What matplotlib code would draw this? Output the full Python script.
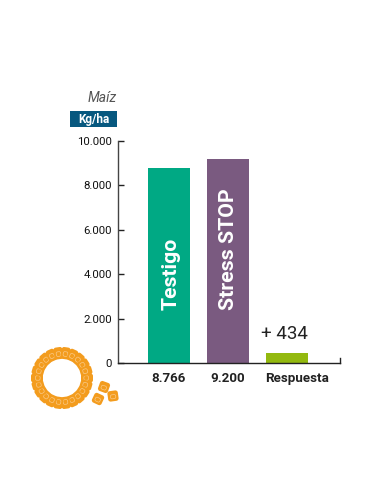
import numpy as np
import matplotlib
matplotlib.use("Agg")
import matplotlib.pyplot as plt
from matplotlib.patches import FancyBboxPatch, Rectangle
from matplotlib.transforms import Affine2D

plt.rcParams['font.family'] = ['Roboto', 'DejaVu Sans']

W, H = 381, 492
categories = ['Testigo', 'Stress STOP', 'Respuesta']
values = [8766, 9200, 434]
colors = ['#00a984', '#7a5a80', '#93b90f']
value_labels = ['8.766', '9.200', 'Respuesta']
yticks = [0, 2000, 4000, 6000, 8000, 10000]
ytick_labels = ['0', '2.000', '4.000', '6.000', '8.000', '10.000']

fig = plt.figure(figsize=(W / 100, H / 100), dpi=100)
# axes placed in pixels
ax = fig.add_axes([117.5 / W, (H - 363) / H, 222.5 / W, 222 / H])
ax.set_xlim(-0.873, 2.898)
ax.set_ylim(0, 10000)
ax.bar(range(3), values, width=0.72, color=colors, zorder=2)

for s in ['top', 'right']:
    ax.spines[s].set_visible(False)
ax.spines['left'].set_color('#444444')
ax.spines['left'].set_linewidth(1.0)
ax.spines['bottom'].set_color('#222222')
ax.spines['bottom'].set_linewidth(1.0)
ax.set_yticks(yticks)
ax.set_yticklabels(ytick_labels, fontsize=8.2, color='#111111')
ax.tick_params(axis='y', direction='in', length=4.5, width=1.0, pad=4, color='#222222')
ax.set_xticks([])
for i, lab in enumerate(value_labels):
    # Respuesta sits a bit right of its bar
    ax.text(i + (0.17 if i == 2 else 0.0), -410, lab, fontsize=9.6, fontweight='bold', color='#222222',
            ha='center', va='top')
# little end tick on the baseline
ax.plot([1, 1], [0, 0.022], transform=ax.transAxes, color='#222222', lw=1, clip_on=False)

ax.text(0.035, 2400, categories[0], rotation=90, color='white', fontsize=15.2, fontweight='bold',
        ha='center', va='bottom')
ax.text(1.01, 2400, categories[1], rotation=90, color='white', fontsize=15.4, fontweight='bold',
        ha='center', va='bottom')
ax.text(1.96, 880, '+ 434', fontsize=13.5, color='#222222', ha='center', va='bottom')

# header
fig.text(117 / W, 1 - 98 / H, 'Maíz', fontsize=10, style='italic', color='#555555', ha='right', va='center')
fig.add_artist(Rectangle((70 / W, 1 - 127 / H), 46.5 / W, 16 / H, transform=fig.transFigure,
                         color='#07587f', lw=0))
fig.text(93.5 / W, 1 - 119 / H, 'Kg/ha', fontsize=8.5, fontweight='bold', color='white', ha='center', va='center')

# corn logo, in pixel coordinates
logo = fig.add_axes([0, 0, 1, 1], facecolor='none')
logo.set_xlim(0, W)
logo.set_ylim(H, 0)
logo.axis('off')

def kernel(x, y, angle, w=9.0, h=12.0):
    tr = Affine2D().rotate_deg(angle).translate(x, y) + logo.transData
    logo.add_patch(FancyBboxPatch((-w / 2, -h / 2), w, h, boxstyle='round,pad=0,rounding_size=2.5',
                                  fc='#f39c1e', ec='none', transform=tr))
    logo.add_patch(FancyBboxPatch((-w / 4, -h / 8), w / 2, h / 2.6, boxstyle='round,pad=0,rounding_size=1.5',
                                  fc='none', ec='#f9c987', lw=0.5, transform=tr))

n_kernels = 22
for a in np.linspace(0, 360, n_kernels, endpoint=False):
    t = np.radians(a)
    kernel(62 + 25 * np.cos(t), 378 + 25 * np.sin(t), a + 90)
for x, y, a in [(104, 387, 20), (113, 396, -8), (98, 399, 25)]:
    kernel(x, y, a, w=10.5, h=10.5)

fig.savefig('out.png', dpi=100)
